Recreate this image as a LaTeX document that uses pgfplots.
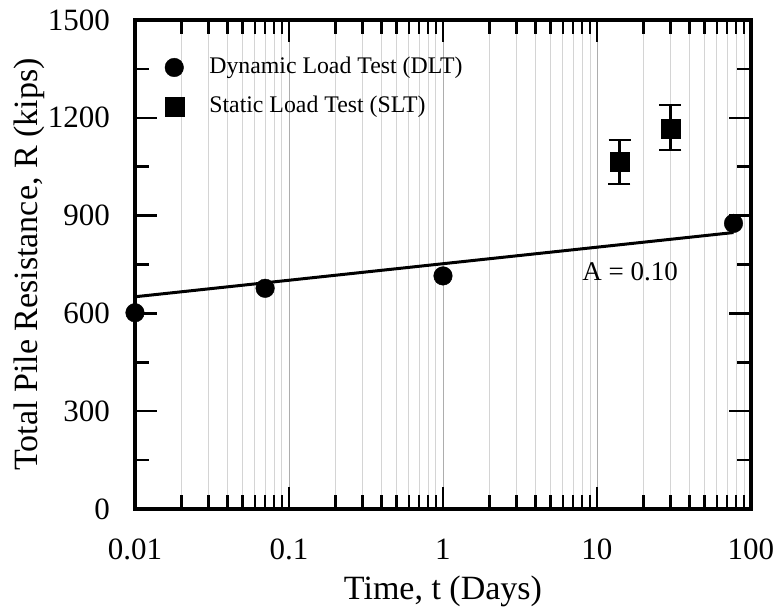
\documentclass[border=0pt]{standalone}
\usepackage{fontspec}
\setmainfont{Liberation Serif}
\usepackage{pgfplots}
\pgfplotsset{compat=1.18}
\begin{document}
\fontsize{31bp}{36bp}\selectfont
\begin{tikzpicture}
\begin{axis}[
  scale only axis, width=616bp, height=489bp,
  xmode=log, xmin=0.01, xmax=100, ymin=0, ymax=1500,
  ytick={0,300,600,900,1200,1500}, minor y tick num=1,
  xtick={0.01,0.1,1,10,100}, xticklabels={0.01,0.1,1,10,100},
  tick align=inside, tick pos=both,
  major tick length=22bp, minor tick length=14bp,
  every tick/.style={black, line width=2.5bp},
  axis line style={line width=3.5bp},
  xminorgrids, xmajorgrids,
  minor grid style={black!17, line width=0.9bp},
  major grid style={black!32, line width=0.9bp},
  tick label style={font=\fontsize{31bp}{36bp}\selectfont, inner sep=0pt},
  xticklabel style={anchor=base, yshift=-51bp},
  yticklabel style={anchor=east, xshift=-25bp},
  /pgf/number format/assume math mode=true,
  /pgf/number format/1000 sep={},
  xlabel={Time, t (Days)}, ylabel={Total Pile Resistance, R (kips)},
  xlabel style={font=\fontsize{34bp}{38bp}\selectfont, inner sep=0pt,
    at={(axis description cs:0.5,0)}, anchor=base, yshift=-91bp},
  ylabel style={font=\fontsize{34bp}{38bp}\selectfont, inner sep=0pt,
    at={(axis description cs:0,0.5)}, anchor=south, yshift=90bp},
  legend image code/.code={\path (0cm,0cm) (1.51cm,0cm);
    \draw[mark repeat=2, mark phase=2, #1] plot coordinates {(0cm,0cm) (0.35cm,0cm) (1.51cm,0cm)};},
  legend style={at={(0.047,0.929)}, anchor=north west, draw=none, fill=none,
    inner sep=0pt, font=\fontsize{23.8bp}{28bp}\selectfont, row sep=14bp},
  legend cell align=left,
  clip=false,
]
\addplot[black, line width=3bp, forget plot] coordinates {(0.01,651) (77,848)};
\addplot[only marks, mark=*, mark size=9.3bp, black] coordinates {(0.01,602) (0.07,677) (1,715) (77,876)};
\addlegendentry{Dynamic Load Test (DLT)}
\addplot[only marks, mark=square*, mark size=9.5bp, black,
  error bars/.cd, y dir=both, y explicit,
  error bar style={line width=2.5bp},
  error mark options={rotate=90, mark size=11bp, line width=2.5bp}]
  coordinates {(14,1065) += (0,67) -= (0,68) (30,1168) += (0,71) -= (0,67)};
\addlegendentry{Static Load Test (SLT)}
\node[font=\fontsize{27bp}{32bp}\selectfont] at (axis cs:16.4,727) {A = 0.10};
\end{axis}
\pgfresetboundingbox
\path[use as bounding box] ([xshift=-135bp,yshift=-103bp]current axis.south west) rectangle ([xshift=27bp,yshift=20bp]current axis.north east);
\end{tikzpicture}
\end{document}
